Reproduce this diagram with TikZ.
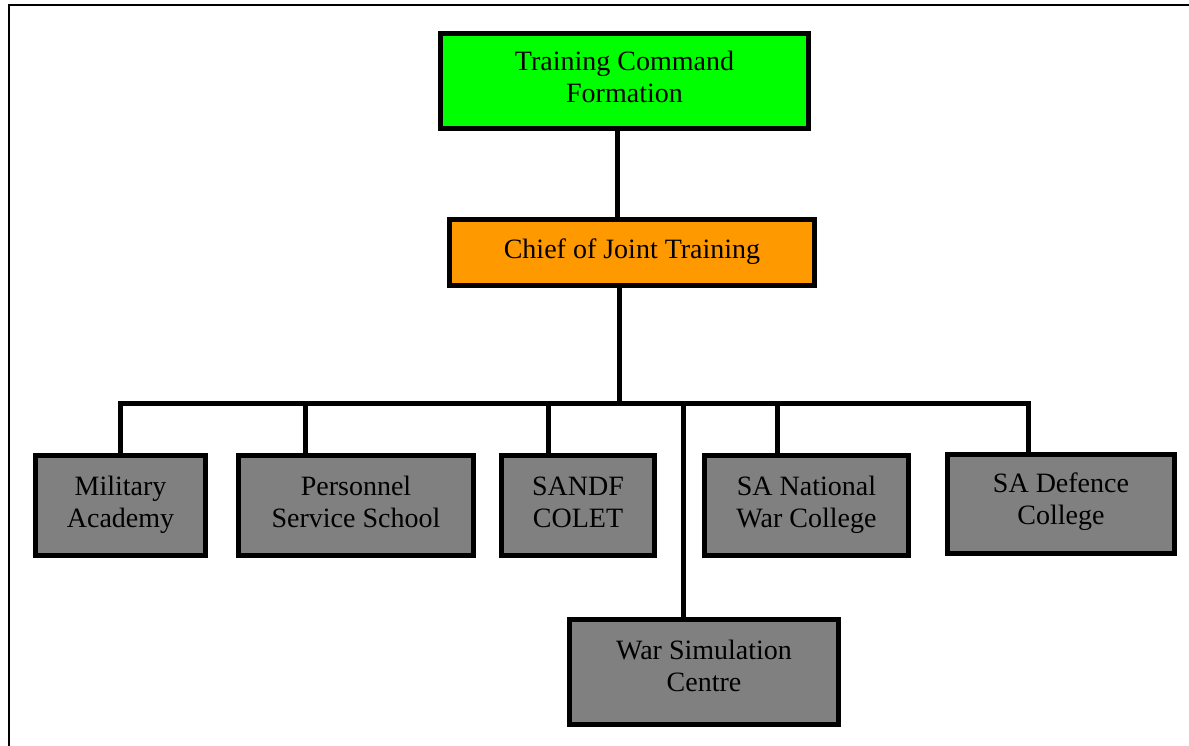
\documentclass[tikz,border=0pt]{standalone}
\usepackage{fontspec}
\setmainfont{Liberation Serif}
\definecolor{boxgreen}{HTML}{00FF00}
\definecolor{boxorange}{HTML}{FF9900}
\definecolor{boxgray}{HTML}{808080}
\newcommand{\lowstrut}[1]{\rule[-#1]{0pt}{1pt}}
\begin{document}
\begin{tikzpicture}[x=1pt,y=-1pt,
  unit/.style={draw=black, line width=5pt, rectangle, align=center, inner sep=0pt,
    font=\fontsize{28}{32}\selectfont},
  link/.style={draw=black, line width=5pt, line join=miter}]
\useasboundingbox (0,0) rectangle (1189,746);
\draw[line width=2pt] (8.5,746) -- (8.5,5.5) -- (1189,5.5);
% nodes
\node[unit, fill=boxgreen, minimum width=368pt, minimum height=95pt] (tc) at (624.5,81) {\strut Training Command\\Formation\lowstrut{12pt}};
\node[unit, fill=boxorange, minimum width=365pt, minimum height=66pt] (cj) at (632,252.5) {\strut Chief of Joint Training\strut};
\node[unit, fill=boxgray, minimum width=170pt, minimum height=100pt] (ma) at (120.5,505.5) {\strut Military\\Academy\lowstrut{11pt}};
\node[unit, fill=boxgray, minimum width=235pt, minimum height=100pt] (ps) at (356,505.5) {\strut Personnel\\Service School\lowstrut{11pt}};
\node[unit, fill=boxgray, minimum width=153pt, minimum height=100pt] (sc) at (578,505.5) {\strut SANDF\\COLET\lowstrut{11pt}};
\node[unit, fill=boxgray, minimum width=204pt, minimum height=100pt] (sn) at (806.5,505.5) {\strut SA National\\War College\lowstrut{11pt}};
\node[unit, fill=boxgray, minimum width=227pt, minimum height=99pt] (sd) at (1061,504) {\strut SA Defence\\College\lowstrut{13pt}};
\node[unit, fill=boxgray, minimum width=269pt, minimum height=105pt] (ws) at (704,672) {\strut War Simulation\\Centre\lowstrut{16.4pt}};
% bus coordinates
\coordinate (ctop) at (617,0);
\coordinate (cbot) at (619,403);
\coordinate (b1) at (120,403);
\coordinate (b2) at (305,403);
\coordinate (b3) at (548,403);
\coordinate (b4) at (683,403);
\coordinate (b5) at (777,403);
\coordinate (b6) at (1028,403);
% connectors
\draw[link] (tc.south -| ctop) -- (cj.north -| ctop);
\draw[link] (cj.south -| cbot) -- (cbot);
\draw[link] (ma.north -| b1) -- (b1) -- (b6) -- (sd.north -| b6);
\draw[link] (b2) -- (ps.north -| b2);
\draw[link] (b3) -- (sc.north -| b3);
\draw[link] (b4) -- (ws.north -| b4);
\draw[link] (b5) -- (sn.north -| b5);
\end{tikzpicture}
\end{document}
